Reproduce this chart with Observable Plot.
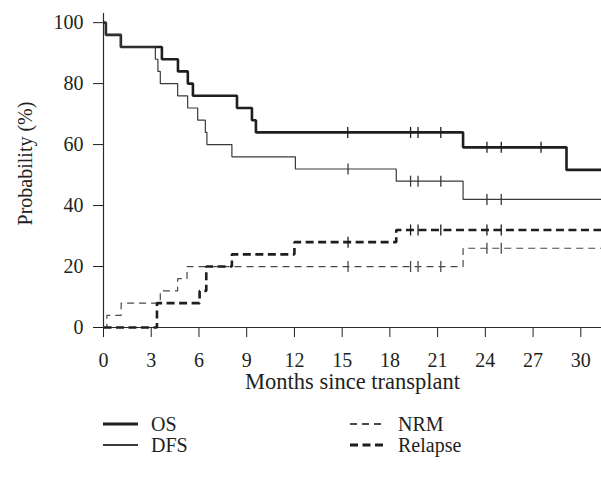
<!DOCTYPE html>
<html>
<head>
<meta charset="utf-8">
<script src="https://cdn.jsdelivr.net/npm/d3@7"></script>
<script src="https://cdn.jsdelivr.net/npm/@observablehq/plot@0.6"></script>
<style>
  html, body { margin: 0; padding: 0; background: white; }
  body { width: 601px; height: 479px; position: relative; overflow: hidden; font-family: "Liberation Serif", "DejaVu Serif", serif; color: #231f20; }
  #legend { position: absolute; left: 0; top: 0; width: 601px; height: 479px; pointer-events: none; }
  .item { position: absolute; display: flex; align-items: center; font-size: 20px; height: 24px; }
  .item svg { margin-right: 13px; }
</style>
</head>
<body>
<div id="chart"></div>
<div id="legend"></div>
<script>
// ---- data ----
const xTicks = [0, 3, 6, 9, 12, 15, 18, 21, 24, 27, 30];
const yTicks = [0, 20, 40, 60, 80, 100];
const xMax = 31.3;

const osTimes   = [0, 0.15, 1.09, 3.67, 4.68, 5.3, 5.62, 8.39, 9.33, 9.58, 22.6, 29.1, 31.3];
const osValues  = [100, 96, 92, 88, 84, 80, 76, 72, 68, 64, 59.1, 51.7, 51.7];
const osCensor  = [15.35, 19.3, 19.77, 21.2, 24.1, 25.0, 27.5];

const dfsTimes  = [0, 0.15, 1.09, 3.26, 3.42, 3.57, 4.66, 5.29, 5.92, 6.4, 6.5, 8.07, 12.06, 18.4, 22.6, 31.3];
const dfsValues = [100, 96, 92, 88, 84, 80, 76, 72, 68, 64, 60, 56, 52, 48, 42, 42];
const dfsCensor = [15.37, 19.3, 19.77, 21.2, 24.1, 25.0];

const nrmTimes  = [0, 0.21, 1.11, 3.57, 4.66, 5.25, 22.6, 31.3];
const nrmValues = [0, 4, 8, 12, 16, 20, 26, 26];
const nrmCensor = [15.37, 19.3, 19.77, 21.2, 24.1, 25.0];

const relTimes  = [0, 3.36, 6.04, 6.46, 8.07, 12.0, 18.4, 31.3];
const relValues = [0, 8, 12, 20, 24, 28, 32, 32];
const relCensor = [15.37, 19.3, 19.77, 21.2, 24.1, 25.0];

const series = [
  {name: "OS",      times: osTimes,  values: osValues,  censor: osCensor,  stroke: "#1e1e1e", width: 2.6, dash: null},
  {name: "DFS",     times: dfsTimes, values: dfsValues, censor: dfsCensor, stroke: "#3a3a3a", width: 1.2, dash: null},
  {name: "NRM",     times: nrmTimes, values: nrmValues, censor: nrmCensor, stroke: "#4a4a4a", width: 1.2, dash: "7,5"},
  {name: "Relapse", times: relTimes, values: relValues, censor: relCensor, stroke: "#1e1e1e", width: 2.6, dash: "8,4.5"}
];

// ---- build tables ----
function stepValue(times, values, t) {
  let v = values[0];
  for (let i = 0; i < times.length; i++) if (times[i] <= t) v = values[i];
  return v;
}
const tickSymbol = {
  draw(context, size) {
    const h = Math.sqrt(size / Math.PI);
    context.moveTo(0, -h);
    context.lineTo(0, h);
  }
};

const marks = [
  Plot.ruleX([0], {stroke: "#2b2b2b", strokeWidth: 1.2}),
  Plot.ruleY([0], {stroke: "#2b2b2b", strokeWidth: 1.2})
];
for (const s of series) {
  const pts = s.times.map((t, i) => ({t, v: s.values[i]}));
  marks.push(Plot.line(pts, {x: "t", y: "v", curve: "step-after", stroke: s.stroke, strokeWidth: s.width, strokeDasharray: s.dash, strokeLinejoin: "miter", strokeLinecap: "butt"}));
  const cs = s.censor.map(t => ({t, v: stepValue(s.times, s.values, t)}));
  marks.push(Plot.dot(cs, {x: "t", y: "v", symbol: tickSymbol, r: 5.5, stroke: s.stroke, strokeWidth: 1.3, fill: "none"}));
}
marks.push(Plot.text(["Months since transplant"], {frameAnchor: "bottom", dy: 61, fontSize: 22.5, fill: "#231f20"}));
marks.push(Plot.text(["Probability (%)"], {frameAnchor: "left", textAnchor: "middle", dx: -78, dy: -7, rotate: -90, fontSize: 20, fill: "#231f20"}));

const chart = Plot.plot({
  width: 601,
  height: 400,
  marginLeft: 103,
  marginRight: 0,
  marginTop: 13,
  marginBottom: 73,
  style: {fontFamily: "Liberation Serif, DejaVu Serif, serif", fontSize: "20px", color: "#231f20", background: "white", overflow: "visible"},
  x: {domain: [0, xMax], ticks: xTicks, tickSize: 10, tickPadding: 15, label: null},
  y: {domain: [0, 103], ticks: yTicks, tickSize: 10, tickPadding: 10, label: null},
  marks
});
document.getElementById("chart").appendChild(chart);

// ---- legend ----
const legendPos = [
  {name: "OS", left: 103, top: 424},
  {name: "DFS", left: 103, top: 445},
  {name: "NRM", left: 350, top: 424},
  {name: "Relapse", left: 350, top: 445}
];
const legend = document.getElementById("legend");
for (const p of legendPos) {
  const s = series.find(d => d.name === p.name);
  const div = document.createElement("div");
  div.className = "item";
  div.style.left = p.left + "px";
  div.style.top = (p.top - 12) + "px";
  div.innerHTML = `<svg width="35" height="10"><line x1="0" x2="35" y1="5" y2="5" stroke="${s.stroke}" stroke-width="${s.width + 0.6}" ${s.dash ? `stroke-dasharray="${s.dash}"` : ""}/></svg><span>${s.name}</span>`;
  legend.appendChild(div);
}
</script>
</body>
</html>
